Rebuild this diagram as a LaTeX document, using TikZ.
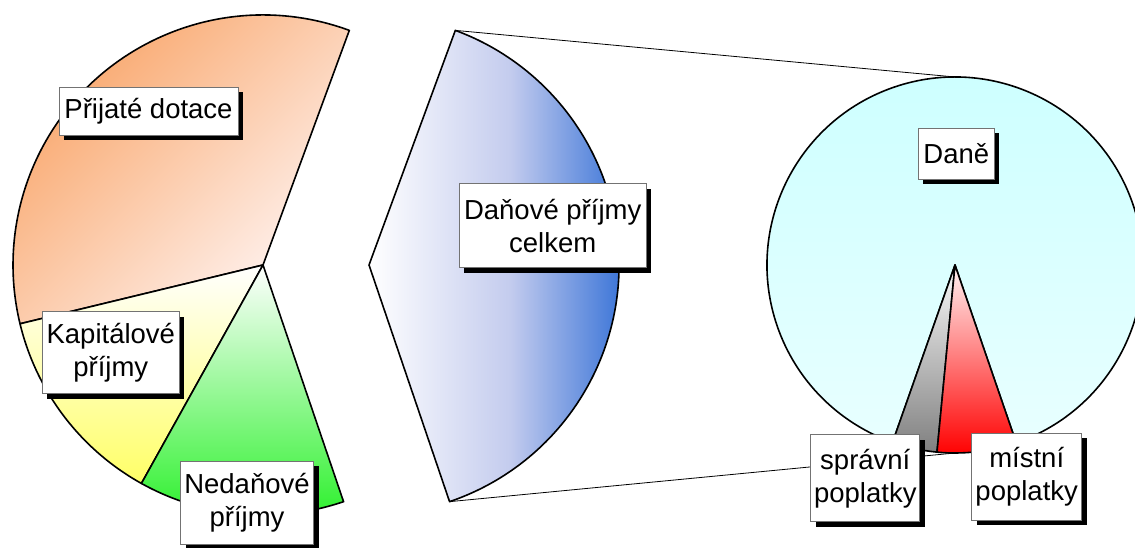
\documentclass[tikz,border=0pt]{standalone}
\usepackage{fontspec}
\setmainfont{Liberation Sans}
\usetikzlibrary{shadows,calc}
\definecolor{orng}{RGB}{248,160,96}
\definecolor{pinkl}{RGB}{255,244,242}
\definecolor{ylw}{RGB}{255,255,102}
\definecolor{grn}{RGB}{40,240,40}
\definecolor{blu}{RGB}{25,95,210}
\definecolor{blum}{RGB}{196,204,238}
\definecolor{cyn}{RGB}{204,255,255}
\definecolor{cynl}{RGB}{232,255,255}
\definecolor{gry}{RGB}{128,128,128}
\begin{document}
\begin{tikzpicture}[x=1pt,y=1pt,
  slice/.style={draw=black,line width=1.6pt,line join=round},
  conn/.style={draw=black,line width=0.8pt},
  lab/.style={draw=black!55,line width=0.8pt,fill=white,align=center,inner sep=0pt,
     font=\fontsize{27.5}{33}\selectfont,
     general shadow={fill=black,shadow xshift=5pt,shadow yshift=-5pt}},
]
\useasboundingbox (0,0) rectangle (1135,547);
\clip (0,0) rectangle (1135,547);

\coordinate (lc) at (263,282);
\coordinate (dc) at (369,282);
\coordinate (rc) at (955,282);
\coordinate (dtop) at ($(dc)+(69.8:250)$);
\coordinate (dbot) at ($(dc)+(-71.2:250)$);
\coordinate (rtop) at ($(rc)+(90:188)$);
\coordinate (rbot) at ($(rc)+(-90:188)$);

\draw[conn] (dtop) -- (rtop);
\draw[conn] (dbot) -- (rbot);

% left pie
\path[slice, top color=orng, bottom color=pinkl, shading angle=45]
  (lc) -- ++(69.8:250) arc[start angle=69.8,end angle=193.6,radius=250] -- cycle;
\path[slice, top color=white, bottom color=ylw]
  (lc) -- ++(193.6:250) arc[start angle=193.6,end angle=240.9,radius=250] -- cycle;
\path[slice, top color=white, bottom color=grn]
  (lc) -- ++(240.9:250) arc[start angle=240.9,end angle=288.8,radius=250] -- cycle;
% exploded slice
\path[slice, left color=white, right color=blu, middle color=blum]
  (dc) -- (dbot) arc[start angle=-71.2,end angle=69.8,radius=250] -- cycle;

% right pie
\path[slice, top color=cyn, bottom color=cynl]
  (rc) -- ++(-71:188) arc[start angle=-71,end angle=250.6,radius=188] -- cycle;
\path[slice, top color=white!95!gry, bottom color=gry]
  (rc) -- ++(250.6:188) arc[start angle=250.6,end angle=264.5,radius=188] -- cycle;
\path[slice, top color=red!5, bottom color=red]
  (rc) -- ++(264.5:188) arc[start angle=264.5,end angle=289,radius=188] -- cycle;

% labels
\node[lab, minimum width=179pt, minimum height=48pt] (pd) at (148.5,436) {Přijaté dotace};
\node[lab, minimum width=137pt, minimum height=82pt] (kp) at (110.8,194.2) {Kapitálové\\příjmy};
\node[lab, minimum width=133pt, minimum height=83pt] (np) at (247,44.5) {Nedaňové\\příjmy};
\node[lab, minimum width=187pt, minimum height=84pt] (dp) at (552.7,321.2) {Daňové příjmy\\celkem};
\node[lab, minimum width=76pt, minimum height=51pt] (da) at (956.3,393.3) {Daně};
\node[lab, minimum width=109pt, minimum height=87pt] (sp) at (865.3,68.7) {správní\\poplatky};
\node[lab, minimum width=110pt, minimum height=87pt] (mp) at (1026.7,70.3) {místní\\poplatky};
\end{tikzpicture}
\end{document}
